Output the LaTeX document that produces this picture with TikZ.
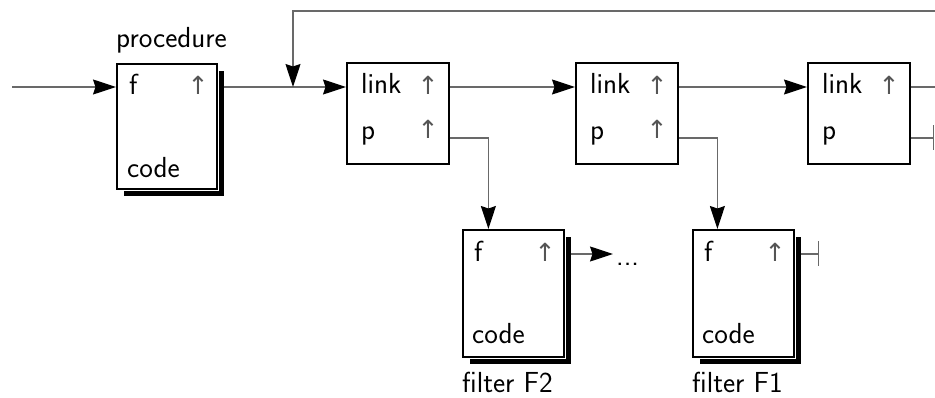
\documentclass[tikz,border=0pt]{standalone}
\usepackage{fontspec}
\newfontfamily\arrowfont{DejaVu Sans}
\usetikzlibrary{arrows.meta,positioning,shadows}
\definecolor{wire}{RGB}{105,105,105}
\definecolor{ptrgray}{RGB}{85,85,85}
\newcommand{\ptrup}{↑}
\tikzset{>={Stealth[length=23pt,width=15pt,inset=2.5pt,color=black]},
every wire/.style={draw=wire,line width=1.2pt},
cell/.style={draw,line width=1.8pt,fill=white,inner sep=0pt,anchor=north west},
shadowed/.style={general shadow={fill=black,shadow xshift=7pt,shadow yshift=-7pt},
  preaction={draw=white,line width=3.6pt}},
txt/.style={inner sep=0pt,anchor=base west},
ptr/.style={inner sep=0pt,anchor=base,text=ptrgray,font=\arrowfont\fontsize{25}{28}\selectfont}}

\begin{document}
\begin{tikzpicture}[x=1pt,y=-1pt,font=\sffamily\fontsize{29}{34}\selectfont]
  \useasboundingbox (0,0) rectangle (935,398);
  % pointer rows
  \coordinate (row1) at (0,87);
  \coordinate (row2) at (0,138);
  \coordinate (frow) at (0,254);

  % procedure
  \node [cell,shadowed,minimum width=100pt,minimum height=125pt] (proc) at (116,63) {};
  \node [txt] (proc-name) at (116,48) {procedure};
  \node [txt] (proc-f) at (129,95) {f};
  \node [ptr] (proc-up) at (198,95) {\ptrup};
  \node [txt] (proc-code) at (127,178) {code};

  % list cells
  \foreach \name/\x in {link1/346,link2/575,link3/807}
  {
    \node [cell,minimum width=102pt,minimum height=101pt] (\name) at (\x,62) {};
    \node [txt] (\name-link) at (\x+15,94) {link};
    \node [ptr] (\name-up) at (\x+82,95) {\ptrup};
    \node [txt] (\name-p) at (\x+15,140) {p};
  }
  \node [ptr] (link1-pup) at (428,139) {\ptrup};
  \node [ptr] (link2-pup) at (657,139) {\ptrup};

  % filters
  \foreach \name/\x in {F2/462,F1/692}
  {
    \node [cell,shadowed,minimum width=101pt,minimum height=127pt] (\name) at (\x,229) {};
    \node [txt] (\name-f) at (\x+12,262) {f};
    \node [ptr] (\name-up) at (\x+83,262) {\ptrup};
    \node [txt] (\name-code) at (\x+10,343) {code};
    \node [txt] (\name-name) at (\x,392) {filter \name};
  }
  \node [txt] (more) at (616,266) {...};

  \coordinate (in) at (12,87);
  \coordinate (back) at (935,11);
  \coordinate (fork) at (293,87);
  \coordinate (out) at (935,87);
  \coordinate (F1-end) at (819,254);
  \coordinate (link3-end) at (934,138);

  \path [every wire]
    (in) edge [->] (proc.west |- row1)
    ([xshift=6pt]proc.east |- row1) edge [->] (link1.west |- row1)
    (link1.east |- row1) edge [->] (link2.west |- row1)
    (link2.east |- row1) edge [->] (link3.west |- row1)
    (link3.east |- row1) edge (out)
    ([xshift=6pt]F2.east |- frow) edge [->] ([xshift=-3pt]more.west |- frow)
    ([xshift=6pt]F1.east |- frow) edge [-{Bar[width=25pt]}] (F1-end)
    (link3.east |- row2) edge [-{Bar[width=25pt]}] (link3-end);
  \draw [every wire,->] (back) -| (fork);
  \draw [every wire,->] (link1.east |- row2) -| ([xshift=-25pt]F2.north);
  \draw [every wire,->] (link2.east |- row2) -| ([xshift=-26pt]F1.north);
\end{tikzpicture}
\end{document}
